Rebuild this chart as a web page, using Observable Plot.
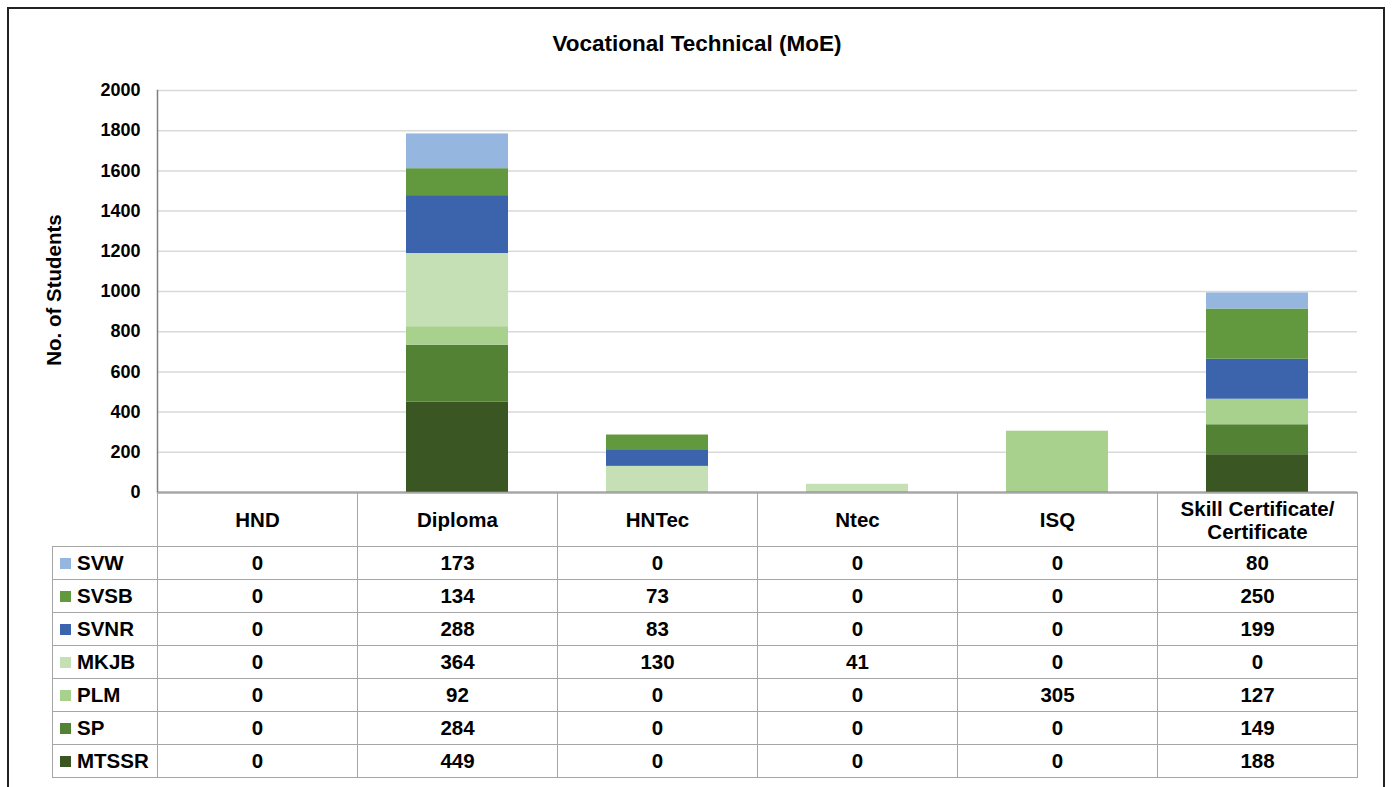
<!DOCTYPE html>
<html>
<head>
<meta charset="utf-8">
<script src="https://cdn.jsdelivr.net/npm/d3@7"></script>
<script src="https://cdn.jsdelivr.net/npm/@observablehq/plot@0.6"></script>
<style>
  html, body { margin: 0; padding: 0; background: #fff; }
  body { width: 1392px; height: 787px; position: relative; overflow: hidden;
         font-family: "Liberation Sans", Arial, sans-serif; color: #000; }
  #frame { position: absolute; left: 7px; top: 7px; width: 1378px; height: 820px;
           border: 2px solid #222; box-sizing: border-box; }
  #title { position: absolute; left: 0; width: 1394px; top: 31px; text-align: center;
           font-weight: bold; font-size: 22.5px; }
  #ylabel { position: absolute; left: 54px; top: 290px; transform: translate(-50%, -50%) rotate(-90deg);
            font-weight: bold; font-size: 20.5px; white-space: nowrap; }
  #chart { position: absolute; left: 0; top: 0; }
  #tbl { position: absolute; left: 52px; top: 492px; border-collapse: collapse; table-layout: fixed;
         font-weight: bold; font-size: 20.5px; }
  #tbl td { border: 1.5px solid #a6a6a6; text-align: center; padding: 0; height: 32px; line-height: 22px; }
  #tbl tr.head td { height: 53px; line-height: 23px; }
  #tbl tr.head td.blank { border-left: none; border-top: none; border-bottom: 1.5px solid #a6a6a6; }
  #tbl td.key { text-align: left; padding-left: 7px; white-space: nowrap; }
  .sw { display: inline-block; width: 11px; height: 11px; margin-right: 6px; vertical-align: 1px; }
</style>
</head>
<body>
<div id="frame"></div>
<div id="title">Vocational Technical (MoE)</div>
<div id="ylabel">No. of Students</div>
<div id="chart"></div>
<table id="tbl"></table>
<script>
// ---- data ----
const categories = ["HND", "Diploma", "HNTec", "Ntec", "ISQ", "Skill Certificate/ Certificate"];
const categoryLines = [["HND"], ["Diploma"], ["HNTec"], ["Ntec"], ["ISQ"], ["Skill Certificate/", "Certificate"]];
// table order (top to bottom)
const seriesNames = ["SVW", "SVSB", "SVNR", "MKJB", "PLM", "SP", "MTSSR"];
const seriesColors = ["#95b6df", "#62993e", "#3b64ad", "#c5e0b4", "#a9d18e", "#548235", "#3a5623"];
const SVW   = [0, 173, 0, 0, 0, 80];
const SVSB  = [0, 134, 73, 0, 0, 250];
const SVNR  = [0, 288, 83, 0, 0, 199];
const MKJB  = [0, 364, 130, 41, 0, 0];
const PLM   = [0, 92, 0, 0, 305, 127];
const SP    = [0, 284, 0, 0, 0, 149];
const MTSSR = [0, 449, 0, 0, 0, 188];
const yTicks = [0, 200, 400, 600, 800, 1000, 1200, 1400, 1600, 1800, 2000];

const seriesValues = {SVW, SVSB, SVNR, MKJB, PLM, SP, MTSSR};
// stacking order bottom -> top
const stackOrder = seriesNames.slice().reverse();
const rows = [];
for (const s of stackOrder) {
  categories.forEach((c, i) => rows.push({category: c, series: s, value: seriesValues[s][i]}));
}

const chart = Plot.plot({
  width: 1392,
  height: 506,
  marginTop: 90,
  marginBottom: 14,
  marginLeft: 157,
  marginRight: 35,
  style: {fontFamily: "'Liberation Sans', Arial, sans-serif", fontSize: "18px", fontWeight: "bold", color: "#000", background: "transparent", overflow: "visible"},
  x: {domain: categories, paddingInner: 0.49, paddingOuter: 0.245, axis: null},
  y: {domain: [0, 2000], axis: null},
  color: {domain: seriesNames, range: seriesColors},
  marks: [
    Plot.ruleY(yTicks.filter(d => d > 0), {stroke: "#d9d9d9", strokeWidth: 1.5}),
    Plot.barY(rows, Plot.stackY({order: stackOrder}, {x: "category", y: "value", fill: "series"})),
    Plot.axisY({ticks: yTicks, tickFormat: d => String(d), tickSize: 0, tickPadding: 17, label: null, fontWeight: "bold", fontSize: 18}),
    Plot.frame({anchor: "left", stroke: "#7f7f7f", strokeWidth: 1.5}),
    Plot.ruleY([0], {stroke: "#7f7f7f", strokeWidth: 2})
  ]
});
document.getElementById("chart").appendChild(chart);

// ---- data table ----
const tbl = document.getElementById("tbl");
const colgroup = document.createElement("colgroup");
[105, 200, 200, 200, 200, 200, 200].forEach(w => {
  const col = document.createElement("col"); col.style.width = w + "px"; colgroup.appendChild(col);
});
tbl.appendChild(colgroup);
const head = document.createElement("tr");
head.className = "head";
const blank = document.createElement("td"); blank.className = "blank"; head.appendChild(blank);
categoryLines.forEach(lines => {
  const td = document.createElement("td");
  td.innerHTML = lines.join("<br>");
  head.appendChild(td);
});
tbl.appendChild(head);
seriesNames.forEach((s, k) => {
  const tr = document.createElement("tr");
  const key = document.createElement("td");
  key.className = "key";
  key.innerHTML = `<span class="sw" style="background:${seriesColors[k]}"></span>${s}`;
  tr.appendChild(key);
  seriesValues[s].forEach(v => {
    const td = document.createElement("td"); td.textContent = v; tr.appendChild(td);
  });
  tbl.appendChild(tr);
});
</script>
</body>
</html>
